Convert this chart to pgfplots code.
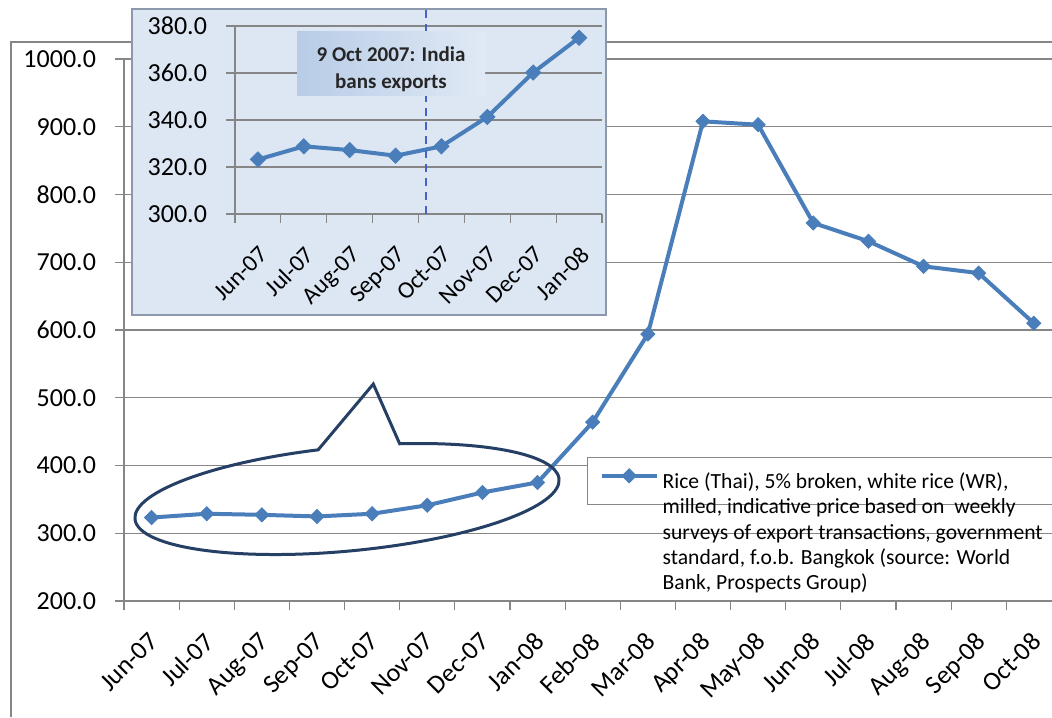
\documentclass[border=0pt]{standalone}
\usepackage{fontspec}
\setmainfont{Carlito}
\usepackage{pgfplots}
\usepackage{pgfplotstable}
\pgfplotsset{compat=1.18}
\definecolor{ser}{RGB}{74,126,187}
\definecolor{gridc}{RGB}{134,134,134}
\definecolor{callout}{RGB}{37,64,100}
\definecolor{insetbg}{RGB}{221,231,243}
\definecolor{insetbd}{RGB}{140,152,172}
\definecolor{boxL}{RGB}{184,204,230}
\definecolor{boxR}{RGB}{224,233,245}
\definecolor{dashc}{RGB}{70,100,200}

\pgfplotstableread{
x y
0 323.2
1 328.8
2 327.2
3 324.8
4 328.8
5 341.3
6 360.2
7 375.0
8 464
9 594
10 908
11 903
12 758
13 731
14 694
15 684
16 610
}\maindata

\pgfplotstableread{
x y
0 323.2
1 328.8
2 327.2
3 324.8
4 328.8
5 341.3
6 360.2
7 375.0
}\insetdata

\pgfplotsset{
  commonax/.style={
    scale only axis,
    axis lines*=left,
    axis line style={gridc, line width=0.7pt},
    ymajorgrids,
    grid style={gridc, line width=0.6pt},
    tick align=outside,
    major x tick style={draw=none},
    minor x tick style={gridc, line width=0.6pt},
    ytick style={gridc, line width=0.6pt},
    major tick length=4.5pt,
    minor tick length=4.5pt,
    tick label style={font=\fontsize{13}{15}\selectfont, black},
    /pgf/number format/assume math mode=true,
    yticklabel style={xshift=-6pt, /pgf/number format/fixed, /pgf/number format/fixed zerofill, /pgf/number format/precision=1, /pgf/number format/1000 sep={}},
  },
}

\begin{document}
\begin{tikzpicture}
\begin{scope}[x=0.5pt,y=-0.5pt]
\fill[white] (0,0) rectangle (1052,717);
\draw[gridc, line width=0.6pt] (11,717) -- (11,42) -- (1052,42);
\coordinate (mainSW) at (124,601);
\coordinate (insetSW) at (235,214);
\end{scope}

\begin{axis}[commonax,
  at={(mainSW)}, anchor=south west,
  width=464pt, height=271pt,
  xmin=-0.5, xmax=16.33, ymin=200, ymax=1000,
  ytick={200,300,...,1000},
  xtick={0,...,16},
  minor xtick={-0.5,0.5,...,16},
  xticklabels={Jun-07,Jul-07,Aug-07,Sep-07,Oct-07,Nov-07,Dec-07,Jan-08,Feb-08,Mar-08,Apr-08,May-08,Jun-08,Jul-08,Aug-08,Sep-08,Oct-08},
  xticklabel style={anchor=north east, xshift=-2pt, yshift=-5.5pt, rotate=45},
  clip=false,
  legend style={at={(0.499,0.2657)}, anchor=north west, draw=gridc, line width=0.6pt, fill=white,
    font=\fontsize{10.8}{12.7}\selectfont, inner xsep=6pt, inner ysep=4.5pt},
  legend image code/.code={\draw[mark repeat=2,mark phase=2,#1] plot coordinates {(0pt,2.6pt)(13.75pt,2.6pt)(27.5pt,2.6pt)};},
]
\addplot[ser, line width=2pt, mark=square*, mark size=2.5pt,
  mark options={rotate=45, fill=ser, draw=ser, line width=0.4pt}] table {\maindata};
\addlegendentry{\begin{tabular}[t]{@{}l@{}}Rice (Thai), 5\% broken, white rice (WR),\\milled, indicative price based on\ \ weekly\\surveys of export transactions, government\\standard, f.o.b. Bangkok (source: World\\Bank, Prospects Group)\end{tabular}}
\end{axis}

\begin{scope}[x=0.5pt,y=-0.5pt]
\draw[insetbd, line width=1pt, fill=insetbg] (132,9) rectangle (606,315);
\end{scope}

\begin{axis}[commonax,
  at={(insetSW)}, anchor=south west,
  width=183.5pt, height=94pt,
  xmin=-0.5, xmax=7.5, ymin=300, ymax=380,
  ytick={300,320,...,380},
  xtick={0,...,7},
  minor xtick={-0.5,0.5,...,7.5},
  xticklabels={Jun-07,Jul-07,Aug-07,Sep-07,Oct-07,Nov-07,Dec-07,Jan-08},
  xticklabel style={font=\fontsize{12}{14}\selectfont, anchor=north east, xshift=0pt, yshift=-6pt, rotate=45},
  clip=false,
]
\addplot[ser, line width=2pt, mark=square*, mark size=2.7pt,
  mark options={rotate=45, fill=ser, draw=ser, line width=0.4pt}] table {\insetdata};
\draw[dashc, line width=0.9pt, dash pattern=on 4pt off 3pt] (axis cs:3.67,300) -- (axis cs:3.67,387.2);
\end{axis}

\begin{scope}[x=0.5pt,y=-0.5pt]
\shade[left color=boxL, right color=boxR] (297,32) rectangle (485,95);
\node[font=\fontsize{10.5}{13.5}\selectfont\bfseries, text=black!85, align=center] at (391,69) {9 Oct 2007: India\\bans exports};
\begin{scope}[shift={(347,499)}, rotate=5.4, x=0.5pt, y=0.5pt]
\draw[callout, line width=1.5pt, line join=miter]
  (74.3:213 and 52) -- (37,112) -- (96.5:213 and 52)
  arc[start angle=96.5, end angle=434.3, x radius=213, y radius=52] -- cycle;
\end{scope}
\end{scope}
\pgfresetboundingbox
\begin{scope}[x=0.5pt,y=-0.5pt]
\useasboundingbox (0,0) rectangle (1052,717);
\end{scope}
\end{tikzpicture}
\end{document}
